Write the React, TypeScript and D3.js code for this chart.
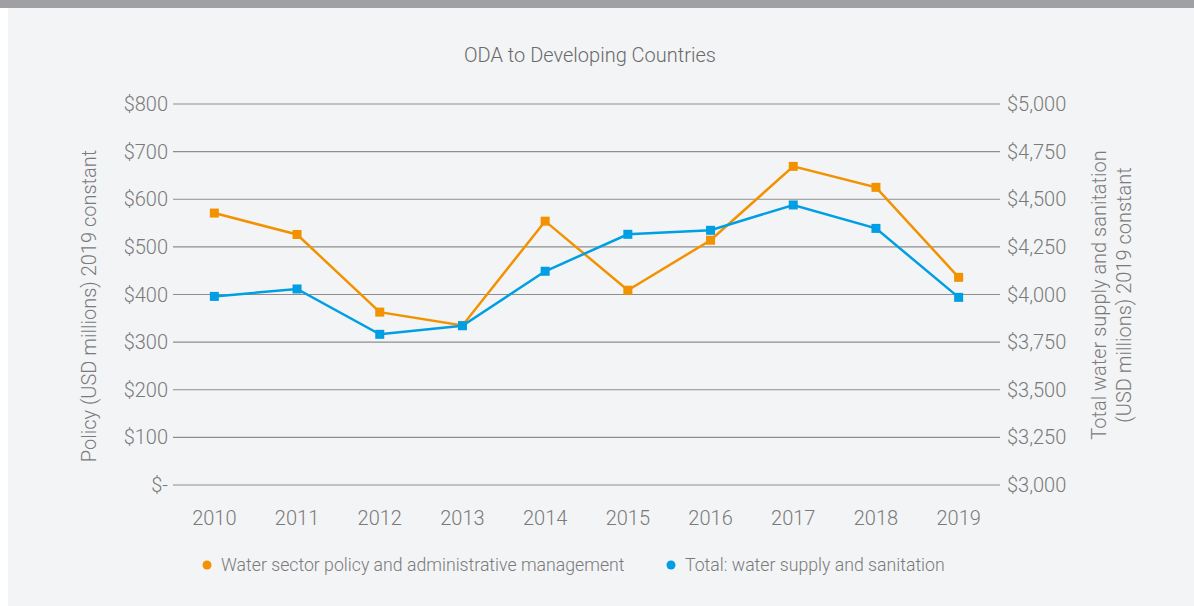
import React from "react";
import * as d3 from "d3";

const years = ["2010","2011","2012","2013","2014","2015","2016","2017","2018","2019"];
const policyValues = [571, 526, 363, 335, 554, 409, 514, 669, 625, 436];
const totalValues = [3990, 4029, 3791, 3836, 4122, 4316, 4337, 4470, 4347, 3985];
const leftTicks = [0, 100, 200, 300, 400, 500, 600, 700, 800];
const rightTicks = [3000, 3250, 3500, 3750, 4000, 4250, 4500, 4750, 5000];
const seriesNames = ["Water sector policy and administrative management", "Total: water supply and sanitation"];
const colors = ["#F39200", "#009FE3"];

export default function App() {
  const W = 1194, H = 606;
  const x0 = 173, x1 = 1000, yTop = 104, yBot = 485;
  const x = d3.scaleBand().domain(years).range([x0, x1]);
  const yL = d3.scaleLinear().domain([0, 800]).range([yBot, yTop]);
  const yR = d3.scaleLinear().domain([3000, 5000]).range([yBot, yTop]);
  const cx = (d: string) => (x(d) as number) + x.bandwidth() / 2;
  const line1 = d3.line<number>().x((_, i) => cx(years[i])).y((d) => yL(d));
  const line2 = d3.line<number>().x((_, i) => cx(years[i])).y((d) => yR(d));
  const fmtL = (v: number) => (v === 0 ? "$-" : "$" + d3.format(",")(v));
  const fmtR = (v: number) => "$" + d3.format(",")(v);
  const font = "Roboto, 'Open Sans', sans-serif";
  const txt = "#7a7a7a";
  const ms = 9;
  return (
    <svg width={W} height={H} style={{ position: "absolute", left: 0, top: 0 }} fontFamily={font} fontWeight={300}>
      <rect x={0} y={0} width={W} height={H} fill="#ffffff" />
      <rect x={8} y={0} width={W - 8} height={H} fill="#f3f4f6" />
      <rect x={0} y={0} width={W} height={8} fill="#a0a0a4" />
      <text x={590} y={62} textAnchor="middle" fontSize={20} fill="#6a6a6a">ODA to Developing Countries</text>
      {leftTicks.map((t) => (
        <g key={"l" + t}>
          <line x1={x0} x2={x1} y1={yL(t)} y2={yL(t)} stroke="#8e8e8e" strokeWidth={1.2} />
          <text x={168} y={yL(t)} dy="0.35em" textAnchor="end" fontSize={20} fill={txt}>{fmtL(t)}</text>
        </g>
      ))}
      {rightTicks.map((t) => (
        <text key={"r" + t} x={1007} y={yR(t)} dy="0.35em" textAnchor="start" fontSize={20} fill={txt}>{fmtR(t)}</text>
      ))}
      {years.map((yr) => (
        <text key={yr} x={cx(yr)} y={518} dy="0.35em" textAnchor="middle" fontSize={20} fill={txt}>{yr}</text>
      ))}
      <text transform={`translate(96,306) rotate(-90)`} textAnchor="middle" fontSize={20} fill={txt}>Policy (USD millions) 2019 constant</text>
      <text transform={`translate(1106,295) rotate(-90)`} textAnchor="middle" fontSize={20} fill={txt}>Total water supply and sanitation</text>
      <text transform={`translate(1131,295) rotate(-90)`} textAnchor="middle" fontSize={20} fill={txt}>(USD millions) 2019 constant</text>
      <path d={line1(policyValues) || ""} fill="none" stroke={colors[0]} strokeWidth={2.5} />
      <path d={line2(totalValues) || ""} fill="none" stroke={colors[1]} strokeWidth={2.5} />
      {policyValues.map((v, i) => (
        <rect key={"p" + i} x={cx(years[i]) - ms / 2} y={yL(v) - ms / 2} width={ms} height={ms} fill={colors[0]} />
      ))}
      {totalValues.map((v, i) => (
        <rect key={"t" + i} x={cx(years[i]) - ms / 2} y={yR(v) - ms / 2} width={ms} height={ms} fill={colors[1]} />
      ))}
      <circle cx={207} cy={565} r={4.5} fill={colors[0]} />
      <text x={221} y={565} dy="0.35em" fontSize={17.7} fill={txt}>{seriesNames[0]}</text>
      <circle cx={671} cy={565} r={4.5} fill={colors[1]} />
      <text x={685} y={565} dy="0.35em" fontSize={17.7} fill={txt}>{seriesNames[1]}</text>
    </svg>
  );
}
